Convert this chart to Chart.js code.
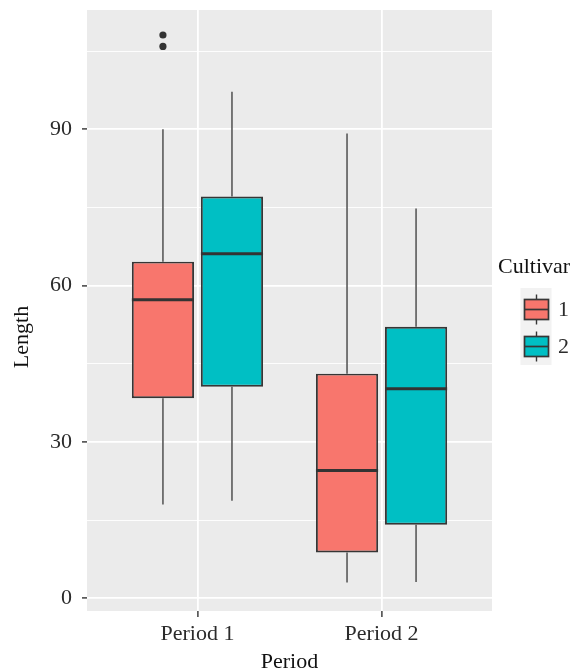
<!DOCTYPE html>
<html>
<head>
<meta charset="utf-8">
<script src="https://cdn.jsdelivr.net/npm/chart.js@4/dist/chart.umd.min.js"></script>
<style>
  html, body { margin: 0; padding: 0; background: #ffffff; }
  canvas { display: block; }
</style>
</head>
<body>
<canvas id="c" width="574" height="672"></canvas>
<script>
// ---- data ----
const categories = ['Period 1', 'Period 2'];
const cultivars = ['1', '2'];
const fills = ['#F8766D', '#00BFC4'];

// Cultivar 1
const c1Min    = [18.0, 3.0];
const c1Q1     = [38.4, 8.8];
const c1Median = [57.3, 24.5];
const c1Q3     = [64.6, 43.1];
const c1Max    = [90.0, 89.2];
const c1Outliers = [[105.9, 108.1], []];

// Cultivar 2
const c2Min    = [18.7, 3.1];
const c2Q1     = [40.6, 14.1];
const c2Median = [66.1, 40.2];
const c2Q3     = [77.1, 52.1];
const c2Max    = [97.2, 74.8];
const c2Outliers = [[], []];

const yMajorTicks = [0, 30, 60, 90];
const yMinorTicks = [15, 45, 75, 105];

const stats = [
  { min: c1Min, q1: c1Q1, med: c1Median, q3: c1Q3, max: c1Max, out: c1Outliers },
  { min: c2Min, q1: c2Q1, med: c2Median, q3: c2Q3, max: c2Max, out: c2Outliers }
];

const FONT = 'Liberation Serif';
const TEXT = '#2b2b2b';

const datasets = stats.map((s, k) => ({
  label: cultivars[k],
  data: categories.map((c, i) => ({ x: i + 1, y: [s.q1[i], s.q3[i]] })),
  backgroundColor: fills[k],
  borderColor: '#363636',
  borderWidth: 1.9,
  borderSkipped: false,
  categoryPercentage: 0.75,
  barPercentage: 0.9
}));

const panelBg = {
  id: 'panelBg',
  beforeDraw(chart) {
    const { ctx, chartArea: a } = chart;
    ctx.save();
    ctx.fillStyle = '#EBEBEB';
    ctx.fillRect(a.left, a.top, a.right - a.left, a.bottom - a.top);
    ctx.restore();
  }
};

const boxParts = {
  id: 'boxParts',
  beforeDatasetsDraw(chart) {
    const { ctx } = chart;
    const y = chart.scales.y;
    ctx.save();
    ctx.strokeStyle = '#5a5a5a';
    ctx.lineWidth = 1.6;
    stats.forEach((s, k) => {
      const meta = chart.getDatasetMeta(k);
      meta.data.forEach((el, i) => {
        ctx.beginPath();
        ctx.moveTo(el.x, y.getPixelForValue(s.q3[i]));
        ctx.lineTo(el.x, y.getPixelForValue(s.max[i]));
        ctx.moveTo(el.x, y.getPixelForValue(s.q1[i]));
        ctx.lineTo(el.x, y.getPixelForValue(s.min[i]));
        ctx.stroke();
      });
    });
    ctx.restore();
  },
  afterDatasetsDraw(chart) {
    const { ctx } = chart;
    const y = chart.scales.y;
    ctx.save();
    stats.forEach((s, k) => {
      const meta = chart.getDatasetMeta(k);
      meta.data.forEach((el, i) => {
        const half = el.width / 2;
        const py = y.getPixelForValue(s.med[i]);
        ctx.strokeStyle = '#333333';
        ctx.lineWidth = 3;
        ctx.beginPath();
        ctx.moveTo(el.x - half, py);
        ctx.lineTo(el.x + half, py);
        ctx.stroke();
        ctx.fillStyle = '#333333';
        s.out[i].forEach(v => {
          ctx.beginPath();
          ctx.arc(el.x, y.getPixelForValue(v), 3.6, 0, Math.PI * 2);
          ctx.fill();
        });
      });
    });
    ctx.restore();
  }
};

const titlesAndLegend = {
  id: 'titlesAndLegend',
  afterDraw(chart) {
    const { ctx, chartArea: a } = chart;
    ctx.save();
    ctx.fillStyle = '#111';
    ctx.font = `22px "${FONT}"`;
    ctx.textBaseline = 'alphabetic';
    // x title
    ctx.textAlign = 'center';
    ctx.fillText('Period', (a.left + a.right) / 2, 668);
    // y title
    ctx.save();
    ctx.translate(28, 337);
    ctx.rotate(-Math.PI / 2);
    ctx.fillText('Length', 0, 0);
    ctx.restore();
    // legend
    ctx.textAlign = 'left';
    ctx.fillText('Cultivar', 498, 273);
    ctx.fillStyle = '#F2F2F2';
    ctx.fillRect(520.5, 288, 31, 77);
    const rows = [309.5, 346.5];
    rows.forEach((cy, k) => {
      const cx = 536.5;
      ctx.strokeStyle = '#363636';
      ctx.lineWidth = 1.4;
      ctx.beginPath();
      ctx.moveTo(cx, cy - 15); ctx.lineTo(cx, cy - 10);
      ctx.moveTo(cx, cy + 10); ctx.lineTo(cx, cy + 15);
      ctx.stroke();
      ctx.fillStyle = fills[k];
      ctx.fillRect(524.5, cy - 10, 24, 20);
      ctx.lineWidth = 1.7;
      ctx.strokeRect(524.5, cy - 10, 24, 20);
      ctx.beginPath();
      ctx.moveTo(524.5, cy); ctx.lineTo(548.5, cy);
      ctx.stroke();
      ctx.fillStyle = TEXT;
      ctx.textBaseline = 'middle';
      ctx.fillText(cultivars[k], 558, cy + 1);
      ctx.textBaseline = 'alphabetic';
    });
    ctx.restore();
  }
};

new Chart(document.getElementById('c'), {
  type: 'bar',
  data: { datasets },
  options: {
    responsive: false,
    animation: false,
    events: [],
    layout: { padding: { left: 0, top: 10, right: 82, bottom: 0 } },
    plugins: { legend: { display: false }, tooltip: { enabled: false } },
    scales: {
      x: {
        type: 'linear',
        min: 0.4,
        max: 2.6,
        offset: false,
        afterBuildTicks: (s) => { s.ticks = categories.map((c, i) => ({ value: i + 1 })); },
        afterFit: (s) => { s.height = 61; s.paddingLeft = 0; s.paddingRight = 0; },
        ticks: {
          callback: (v) => categories[v - 1] || '',
          font: { family: FONT, size: 22 },
          color: TEXT,
          padding: 4,
          maxRotation: 0,
          autoSkip: false
        },
        grid: {
          offset: false,
          color: '#ffffff',
          lineWidth: 1.8,
          tickColor: '#333333',
          tickLength: 6,
          tickWidth: 1.4
        },
        border: { display: false }
      },
      y: {
        type: 'linear',
        min: -2.45,
        max: 112.9,
        afterBuildTicks: (s) => {
          s.ticks = yMajorTicks.concat(yMinorTicks).sort((p, q) => p - q).map(v => ({ value: v }));
        },
        afterFit: (s) => { s.width = 87; s.paddingTop = 0; s.paddingBottom = 0; },
        ticks: {
          callback: (v) => yMajorTicks.includes(v) ? String(v) : '',
          font: { family: FONT, size: 22 },
          color: TEXT,
          padding: 10,
          autoSkip: false
        },
        grid: {
          color: '#ffffff',
          lineWidth: (c) => (c.tick && yMajorTicks.includes(c.tick.value)) ? 1.8 : 0.9,
          tickColor: (c) => (c.tick && yMajorTicks.includes(c.tick.value)) ? '#333333' : 'rgba(0,0,0,0)',
          tickLength: 5,
          tickWidth: 1.4
        },
        border: { display: false }
      }
    }
  },
  plugins: [panelBg, boxParts, titlesAndLegend]
});
</script>
</body>
</html>
